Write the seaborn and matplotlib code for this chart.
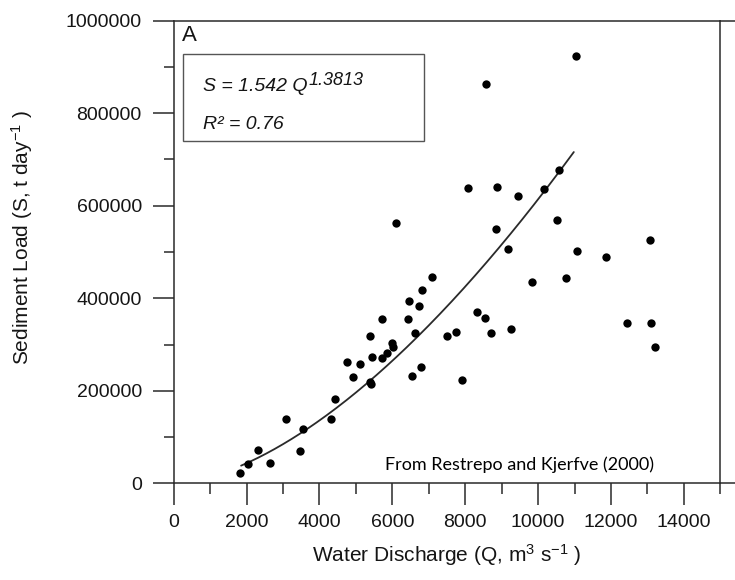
import numpy as np
import pandas as pd
import matplotlib
matplotlib.use("Agg")
import matplotlib.pyplot as plt
from matplotlib.ticker import MultipleLocator
from matplotlib.patches import Rectangle
import seaborn as sns

# ---- data ----
water_discharge = [1830, 2030, 2320, 2640, 3090, 3470, 3550, 4320, 4430, 4760,
                   4930, 5120, 5400, 5440, 5400, 5410, 5720, 5720, 5850, 6000,
                   6010, 6090, 6420, 6460, 6730, 6620, 6540, 6780, 7100, 6810,
                   7500, 7740, 7910, 8320, 8530, 8720, 9260, 9820, 10760, 8080,
                   8560, 8870, 9460, 10150, 10580, 11040, 10530, 8840, 9170, 11070,
                   11870, 13070, 12430, 13100, 13220]
sediment_load = [22000, 41000, 71000, 44500, 138000, 70000, 118000, 138000, 182000, 262000,
                 229000, 258000, 318000, 272000, 220000, 215000, 355000, 270000, 281000, 304000,
                 295000, 562000, 355000, 393000, 383000, 325000, 233000, 252000, 445000, 417000,
                 318000, 328000, 224000, 370000, 357000, 325000, 334000, 435000, 444000, 639000,
                 863000, 640000, 620000, 636000, 678000, 924000, 569000, 550000, 506000, 502000,
                 489000, 525000, 347000, 347000, 295000]

# power-law curve as drawn (S = a * Q^b) and its drawn range
fit_a = 0.16
fit_b = 1.646
fit_q_range = [1850, 10980]

x_ticks = [0, 2000, 4000, 6000, 8000, 10000, 12000, 14000]
y_ticks = [0, 200000, 400000, 600000, 800000, 1000000]

equation_main = "S = 1.542 Q"
equation_exp = "1.3813"
r2_text = "R\u00b2 = 0.76"
panel_label = "A"
source_text = "From Restrepo and Kjerfve (2000)"
x_label = r"Water Discharge (Q, m$^3$ s$^{-1}$ )"
y_label = r"Sediment Load (S, t day$^{-1}$ )"

# ---- style ----
sns.set_theme(style="ticks")
plt.rcParams["font.family"] = ["Liberation Sans", "DejaVu Sans"]
plt.rcParams["mathtext.fontset"] = "custom"
plt.rcParams["mathtext.rm"] = "Liberation Sans"
plt.rcParams["mathtext.it"] = "Liberation Sans:italic"
plt.rcParams["mathtext.default"] = "regular"

df = pd.DataFrame({"Q": water_discharge, "S": sediment_load})
q_curve = np.linspace(fit_q_range[0], fit_q_range[1], 200)
curve = pd.DataFrame({"Q": q_curve, "S": fit_a * q_curve ** fit_b})

fig = plt.figure(figsize=(7.35, 5.8), dpi=100)
ax = fig.add_axes([173.7 / 735, 1 - 483.3 / 580, (720.3 - 173.7) / 735, (483.3 - 20.7) / 580])

line_col = "#2a2a2a"
txt_col = "#151515"
sns.lineplot(data=curve, x="Q", y="S", ax=ax, color=line_col, lw=1.3, zorder=2)
sns.scatterplot(data=df, x="Q", y="S", ax=ax, color="black", s=36, edgecolor="black",
                linewidth=0, zorder=3)

ax.set_xlim(0, 15000)
ax.set_ylim(0, 1000000)
ax.set_xticks(x_ticks)
ax.set_yticks(y_ticks)
ax.set_xticklabels([str(v) for v in x_ticks])
ax.set_yticklabels([str(v) for v in y_ticks])
ax.xaxis.set_minor_locator(MultipleLocator(1000))
ax.yaxis.set_minor_locator(MultipleLocator(100000))

for s in ax.spines.values():
    s.set_visible(True)
    s.set_color(line_col)
    s.set_linewidth(1.1)

ax.tick_params(axis="x", which="major", length=16, width=1.1, color=line_col,
               labelsize=14, pad=6, labelcolor=txt_col)
ax.tick_params(axis="x", which="minor", length=8, width=1.1, color=line_col)
ax.tick_params(axis="y", which="major", length=15, width=1.1, color=line_col,
               labelsize=14, pad=8, labelcolor=txt_col)
ax.tick_params(axis="y", which="minor", length=7.5, width=1.1, color=line_col)

# axis lines running on past the right spine, as in the reference
ax.axhline(0, xmin=1, xmax=1.03, color=line_col, lw=1.1, clip_on=False)
ax.axhline(1000000, xmin=1, xmax=1.03, color=line_col, lw=1.1, clip_on=False)

ax.set_xlabel(x_label, fontsize=15, color=txt_col)
ax.set_ylabel(y_label, fontsize=15, color=txt_col)
ax.xaxis.set_label_coords(0.5, -0.128)
ax.yaxis.set_label_coords(-0.2537, 0.532)

# panel label and equation box
ax.text(0.015, 0.957, panel_label, transform=ax.transAxes, fontsize=16,
        va="baseline", ha="left", color=txt_col)
ax.add_patch(Rectangle((0.0176, 0.7406), 0.458 - 0.0176, 0.9274 - 0.7406,
                       transform=ax.transAxes, fill=False, edgecolor="#555555", lw=1.0))
t_eq = ax.text(0.0536, 0.8487, equation_main, transform=ax.transAxes, fontsize=14,
               fontstyle="italic", va="baseline", ha="left", color=txt_col)
ax.annotate(equation_exp, xy=(1.0, 0.0), xycoords=t_eq, xytext=(1, 7),
            textcoords="offset points", fontsize=13, fontstyle="italic",
            va="baseline", ha="left", color=txt_col)
ax.text(0.0536, 0.766, r2_text, transform=ax.transAxes, fontsize=14,
        fontstyle="italic", va="baseline", ha="left", color=txt_col)

ax.text(0.3866, 0.0288, source_text, transform=ax.transAxes, fontsize=13,
        va="baseline", ha="left", color="black", family=["Lato", "DejaVu Sans"])

fig.savefig("out.png", dpi=100)
